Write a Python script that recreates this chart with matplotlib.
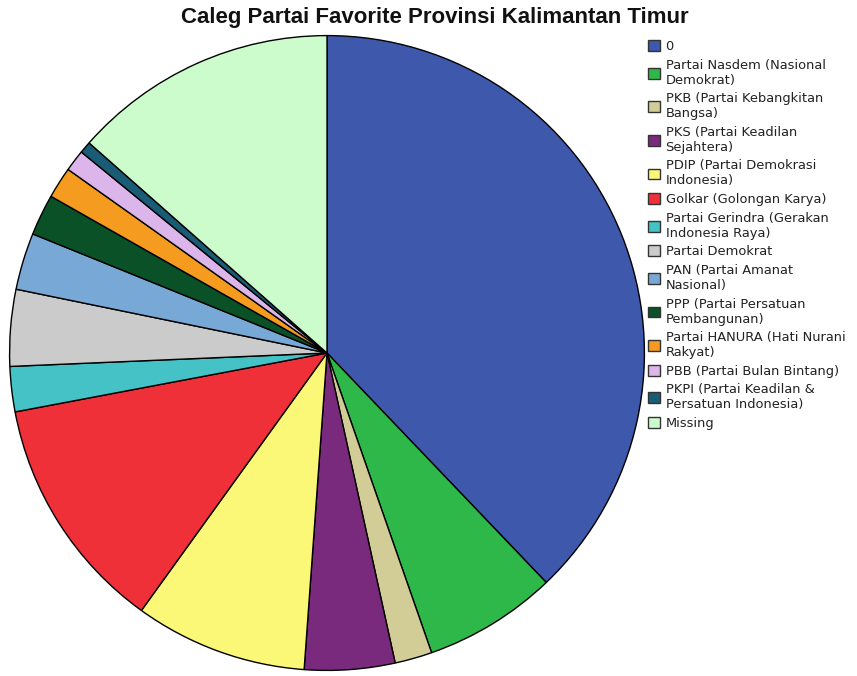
import matplotlib
matplotlib.use("Agg")
import matplotlib.pyplot as plt

labels = [
    "0",
    "Partai Nasdem (Nasional\nDemokrat)",
    "PKB (Partai Kebangkitan\nBangsa)",
    "PKS (Partai Keadilan\nSejahtera)",
    "PDIP (Partai Demokrasi\nIndonesia)",
    "Golkar (Golongan Karya)",
    "Partai Gerindra (Gerakan\nIndonesia Raya)",
    "Partai Demokrat",
    "PAN (Partai Amanat\nNasional)",
    "PPP (Partai Persatuan\nPembangunan)",
    "Partai HANURA (Hati Nurani\nRakyat)",
    "PBB (Partai Bulan Bintang)",
    "PKPI (Partai Keadilan &\nPersatuan Indonesia)",
    "Missing",
]
# share of respondents, percent
values = [37.9, 6.8, 1.9, 4.6, 8.8, 12.1, 2.3, 3.9, 2.9, 2.1, 1.6, 1.1, 0.6, 13.5]
colors = [
    "#3e58ac", "#2fb84a", "#d2cd96", "#7a2a7c", "#fbf777", "#ef3038",
    "#44c2c5", "#cbcbcb", "#78a8d6", "#0b5127", "#f59b1f", "#dcb5ea",
    "#1a5c75", "#ccfccc",
]

W, H = 857, 676
fig = plt.figure(figsize=(W / 100, H / 100), dpi=100)
cx, cy, r = 327, 353, 319
ax = fig.add_axes([(cx - r) / W, (H - cy - r) / H, 2 * r / W, 2 * r / H])
wedges, _ = ax.pie(
    values, colors=colors, startangle=90, counterclock=False, radius=1,
    wedgeprops=dict(edgecolor="black", linewidth=1.0),
)
ax.set_xlim(-1.005, 1.005)
ax.set_ylim(-1.005, 1.005)
ax.set_aspect("equal")
ax.axis("off")

fig.text(435 / W, 1 - 17 / H, "Caleg Partai Favorite Provinsi Kalimantan Timur",
         ha="center", va="center", fontsize=16, fontweight="bold",
         family="Liberation Sans", color="#111111")

leg = fig.legend(
    wedges, labels, loc="upper left", bbox_to_anchor=(648 / W, 1 - 40 / H),
    frameon=False, prop={"family": "DejaVu Sans", "size": 9.4},
    handlelength=0.9, handleheight=0.9, handletextpad=0.45,
    labelspacing=0.43, borderaxespad=0, borderpad=0,
)
for t in leg.get_texts():
    t.set_color("#222222")
for h in leg.legend_handles:
    h.set_edgecolor("#333333")
    h.set_linewidth(1.0)

fig.savefig("out.png", dpi=100)
